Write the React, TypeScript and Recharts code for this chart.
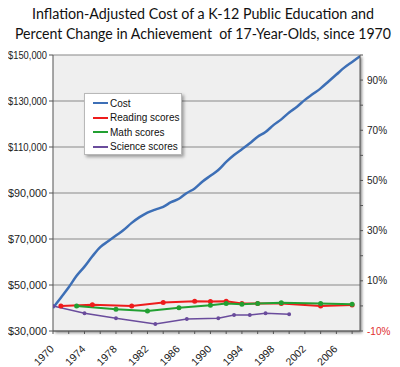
import React from "react";
import { LineChart, Line, XAxis, YAxis, CartesianGrid } from "recharts";

const years = Array.from({ length: 40 }, (_, i) => 1970 + i);
const costValues = [
  40000, 44500, 49000, 54000, 58000, 62500, 66500, 69000, 71500, 74000,
  77000, 79500, 81500, 82800, 84000, 86000, 87500, 90000, 92000, 95000,
  97500, 100000, 103500, 106500, 109000, 111600, 114500, 116500, 119500, 122000,
  125000, 127500, 130500, 133000, 135500, 138500, 141500, 144500, 147000, 149500,
];
const readingYears = [1971, 1975, 1980, 1984, 1988, 1990, 1992, 1994, 1996, 1999, 2004, 2008];
const readingValues = [0, 0.5, 0, 1.4, 1.9, 1.8, 1.9, 1.0, 1.0, 1.0, 0, 0.4];
const mathYears = [1973, 1978, 1982, 1986, 1990, 1992, 1994, 1996, 1999, 2004, 2008];
const mathValues = [0, -1.3, -2.0, -0.7, 0.3, 1.0, 0.7, 1.0, 1.3, 1.0, 0.7];
const scienceYears = [1970, 1974, 1978, 1983, 1987, 1991, 1993, 1995, 1997, 2000];
const scienceValues = [0, -2.95, -4.9, -7.2, -5.2, -4.9, -3.6, -3.6, -2.95, -3.3];

const costTicks = [30000, 50000, 70000, 90000, 110000, 130000, 150000];
const pctTicks = [-10, 0, 10, 20, 30, 40, 50, 60, 70, 80, 90, 100];
const yearTicks = Array.from({ length: 20 }, (_, i) => 1970 + i * 2);

const titleLines = [
  "Inflation-Adjusted Cost of a K-12 Public Education and",
  "Percent Change in Achievement  of 17-Year-Olds, since 1970",
];

const lookup = (ys: number[], vs: number[], y: number) => {
  const i = ys.indexOf(y);
  return i >= 0 ? vs[i] : null;
};

const data = years.map((y, i) => ({
  year: y,
  cost: costValues[i],
  reading: lookup(readingYears, readingValues, y),
  math: lookup(mathYears, mathValues, y),
  science: lookup(scienceYears, scienceValues, y),
}));

const FONT = "'Liberation Sans', Arial, sans-serif";

const XTick = (props: any) => {
  const { x, y, payload } = props;
  const v = payload.value;
  if ((v - 1970) % 4 !== 0) return null;
  const ax = x - 4;
  const ay = y + 8;
  return (
    <text x={ax} y={ay} transform={`rotate(-45, ${ax}, ${ay})`} textAnchor="end"
      dominantBaseline="hanging" fontSize={10.5} fill="#222" fontFamily={FONT}>
      {v}
    </text>
  );
};

const LeftTick = (props: any) => {
  const { x, y, payload } = props;
  return (
    <text x={x} y={y} textAnchor="end" dominantBaseline="central" fontSize={10} fill="#222" fontFamily={FONT}
      textLength={39} lengthAdjust="spacingAndGlyphs">
      {"$" + payload.value.toLocaleString("en-US")}
    </text>
  );
};

const RightTick = (props: any) => {
  const { x, y, payload } = props;
  const v = payload.value;
  if (((v + 10) / 10) % 2 !== 0 || v >= 100) return null;
  return (
    <text x={x + 2} y={y} dominantBaseline="central" fontSize={10} fill={v < 0 ? "#e03030" : "#222"} fontFamily={FONT}>
      {v}%
    </text>
  );
};

const legendItems = [
  { name: "Cost", color: "#3d6fb6" },
  { name: "Reading scores", color: "#ee1c1c" },
  { name: "Math scores", color: "#22a032" },
  { name: "Science scores", color: "#6a4c9c" },
];

export default function App() {
  return (
    <div style={{ position: "relative", width: 392, height: 359 }}>
      <style>{`.recharts-surface{overflow:visible}.recharts-cartesian-grid-bg{filter:drop-shadow(2px 2px 1.5px rgba(0,0,0,0.45))}`}</style>
      <svg width={392} height={40} style={{ position: "absolute", left: 0, top: -8, overflow: "visible" }}>
        <text x={195} y={19} textAnchor="middle" fontFamily="Lato, sans-serif" fontSize={14.5} fill="#111"
          textLength={342} lengthAdjust="spacingAndGlyphs">{titleLines[0]}</text>
        <text x={195} y={39} textAnchor="middle" fontFamily="Lato, sans-serif" fontSize={14.5} fill="#111"
          textLength={376} lengthAdjust="spacingAndGlyphs" style={{ whiteSpace: "pre" }}>{titleLines[1]}</text>
      </svg>
      <LineChart width={392} height={359} data={data} margin={{ top: 47, right: 0, bottom: 0, left: 0 }}>
        <CartesianGrid yAxisId="left" vertical={false} fill="#efefef" stroke="#8a8a8a" strokeWidth={1.2} />
        <XAxis dataKey="year" type="number" domain={[1970, 2009]} ticks={yearTicks} interval={0}
          height={36} tick={<XTick />} tickSize={3} stroke="#555" allowDataOverflow />
        <YAxis yAxisId="left" domain={[30000, 150000]} ticks={costTicks} interval={0} width={45}
          tick={<LeftTick />} tickSize={4} stroke="#555" />
        <YAxis yAxisId="right" orientation="right" domain={[-10, 100]} ticks={pctTicks} interval={0} width={40}
          tick={<RightTick />} tickSize={3} stroke="#555" />
        <Line yAxisId="left" dataKey="cost" name="Cost" stroke="#3d6fb6" strokeWidth={2.5} dot={false}
          type="monotone" isAnimationActive={false} />
        <Line yAxisId="right" dataKey="reading" name="Reading scores" stroke="#ee1c1c" strokeWidth={2}
          dot={{ r: 1.5, fill: "#ee1c1c", stroke: "#ee1c1c" }} connectNulls isAnimationActive={false} />
        <Line yAxisId="right" dataKey="math" name="Math scores" stroke="#22a032" strokeWidth={2}
          dot={{ r: 1.5, fill: "#22a032", stroke: "#22a032" }} connectNulls isAnimationActive={false} />
        <Line yAxisId="right" dataKey="science" name="Science scores" stroke="#6a4c9c" strokeWidth={1.5}
          dot={{ r: 1.2, fill: "#6a4c9c", stroke: "#6a4c9c" }} connectNulls isAnimationActive={false} />
      </LineChart>
      <div style={{
        position: "absolute", left: 76, top: 85,
        background: "#fff", border: "1px solid #b8b8b8", boxShadow: "2px 2px 3px rgba(0,0,0,0.35)",
        width: 98, height: 62, boxSizing: "border-box", padding: "2px 0 0 8px", fontFamily: FONT, fontSize: 10,
      }}>
        {legendItems.map((it) => (
          <div key={it.name} style={{ display: "flex", alignItems: "center", height: 14.5, color: "#111" }}>
            <div style={{ width: 15, height: 2, background: it.color, marginRight: 2 }} />
            <span>{it.name}</span>
          </div>
        ))}
      </div>
    </div>
  );
}
